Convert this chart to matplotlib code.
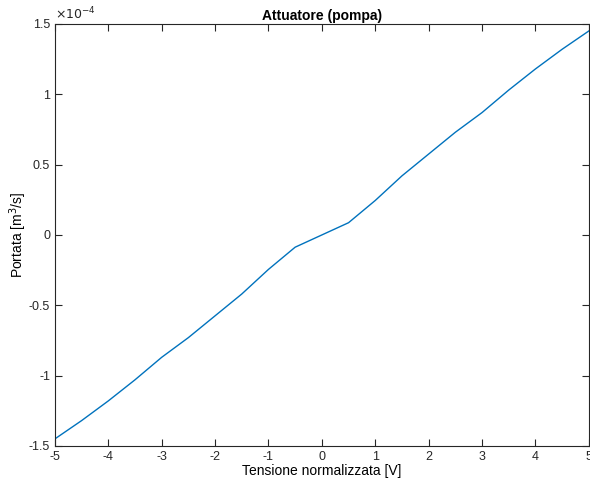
import matplotlib
matplotlib.use("Agg")
import matplotlib.pyplot as plt
from matplotlib.ticker import FuncFormatter

plt.rcParams['font.family'] = ['Liberation Sans', 'DejaVu Sans']
plt.rcParams['axes.unicode_minus'] = False

# Tensione normalizzata [V] vs portata [m^3/s]
tensione = [-5, -4.5, -4, -3.5, -3, -2.5, -2, -1.5, -1, -0.5,
            0, 0.5, 1, 1.5, 2, 2.5, 3, 3.5, 4, 4.5, 5]
portata = [-1.45e-4, -1.32e-4, -1.18e-4, -1.03e-4, -0.87e-4, -0.73e-4,
           -0.575e-4, -0.42e-4, -0.245e-4, -0.087e-4, 0.0, 0.087e-4,
           0.245e-4, 0.42e-4, 0.575e-4, 0.73e-4, 0.87e-4, 1.03e-4,
           1.18e-4, 1.32e-4, 1.45e-4]

x_ticks = [-5, -4, -3, -2, -1, 0, 1, 2, 3, 4, 5]
y_ticks = [-1.5e-4, -1e-4, -0.5e-4, 0, 0.5e-4, 1e-4, 1.5e-4]

fig = plt.figure(figsize=(5.9, 4.79), dpi=100)
ax = fig.add_axes([0.093, 0.069, 0.905, 0.881])

ax.plot(tensione, portata, color='#0072BD', linewidth=1.0)

ax.set_xlim(-5, 5)
ax.set_ylim(-1.5e-4, 1.5e-4)
ax.set_xticks(x_ticks)
ax.set_yticks(y_ticks)
ax.xaxis.set_major_formatter(FuncFormatter(lambda v, p: '%g' % v))
ax.yaxis.set_major_formatter(FuncFormatter(lambda v, p: '%g' % round(v / 1e-4, 3)))
ax.tick_params(direction='in', length=5, width=0.8, labelsize=9,
               top=True, right=True, colors='#262626')
for s in ax.spines.values():
    s.set_linewidth(0.8)
    s.set_color('#262626')

ax.text(0.0, 1.005, r'$\times10^{-4}$', transform=ax.transAxes,
        fontsize=9, ha='left', va='bottom', color='#262626')

ax.set_title('Attuatore (pompa)', fontsize=10, fontweight='bold', pad=3)
ax.set_xlabel('Tensione normalizzata [V]', fontsize=10, labelpad=1)
ax.set_ylabel(r'Portata [m$^3$/s]', fontsize=10, labelpad=0)

fig.savefig('out.png', dpi=100)
